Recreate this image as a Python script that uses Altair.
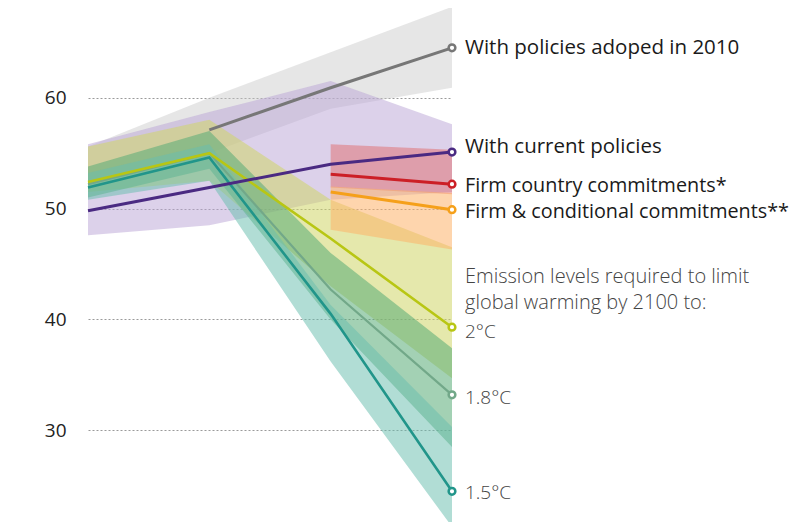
import altair as alt
import pandas as pd

# ---------------- data ----------------
years_all = [2000, 2010, 2020, 2030]
years_from2010 = [2010, 2020, 2030]
years_from2020 = [2020, 2030]

# With policies adopted in 2010 (grey): line from 2010, band from 2000
pol2010_line = [57.1, 60.9, 64.5]
pol2010_hi = [55.6, 60.0, 64.1, 68.2]
pol2010_lo = [52.0, 55.0, 59.0, 60.9]

# With current policies (purple)
current_line = [49.8, 51.9, 54.0, 55.1]
current_hi = [55.8, 58.7, 61.5, 57.6]
current_lo = [47.6, 48.5, 50.8, 51.5]

# Firm country commitments (red)
firm_line = [53.1, 52.2]
firm_hi = [55.8, 55.3]
firm_lo = [51.9, 51.3]

# Firm & conditional commitments (orange)
cond_line = [51.5, 49.9]
cond_hi = [52.0, 51.4]
cond_lo = [48.1, 46.3]

# 2 °C
t20_line = [52.4, 55.0, 47.3, 39.3]
t20_hi = [55.6, 58.0, 50.8, 46.5]
t20_lo = [51.5, 52.5, 43.0, 34.7]

# 1.8 °C
t18_line = [52.2, 55.0, 42.7, 33.2]
t18_hi = [53.8, 57.0, 46.0, 37.4]
t18_lo = [51.0, 53.6, 40.0, 28.5]

# 1.5 °C
t15_line = [51.9, 54.6, 40.5, 24.5]
t15_hi = [53.2, 55.8, 41.3, 30.3]
t15_lo = [50.8, 52.5, 36.2, 21.3]

series_names = ["pol2010", "current", "firm", "cond", "t20", "t18", "t15"]
series_labels = [
    "With policies adoped in 2010",
    "With current policies",
    "Firm country commitments*",
    "Firm & conditional commitments**",
    "2°C",
    "1.8°C",
    "1.5°C",
]
note_lines = ["Emission levels required to limit", "global warming by 2100 to:"]
y_ticks = [30, 40, 50, 60]

# (line years, line values, band years, band low, band high)
series_data = {
    "pol2010": (years_from2010, pol2010_line, years_all, pol2010_lo, pol2010_hi),
    "current": (years_all, current_line, years_all, current_lo, current_hi),
    "firm": (years_from2020, firm_line, years_from2020, firm_lo, firm_hi),
    "cond": (years_from2020, cond_line, years_from2020, cond_lo, cond_hi),
    "t20": (years_all, t20_line, years_all, t20_lo, t20_hi),
    "t18": (years_all, t18_line, years_all, t18_lo, t18_hi),
    "t15": (years_all, t15_line, years_all, t15_lo, t15_hi),
}

# ---------------- styles ----------------
line_color = {
    "pol2010": "#777777", "current": "#4a2a82", "firm": "#cc1f26",
    "cond": "#f5a01a", "t20": "#b8c614", "t18": "#72a889", "t15": "#21958a",
}
band_color = {
    "pol2010": "#c8c8c8", "current": "#b9a3d6", "firm": "#e06060",
    "cond": "#fdb36a", "t20": "#cfd668", "t18": "#57ab76", "t15": "#6abdae",
}
band_opacity = {
    "pol2010": 0.45, "current": 0.5, "firm": 0.45, "cond": 0.55,
    "t20": 0.55, "t18": 0.55, "t15": 0.52,
}
line_width = {
    "pol2010": 3, "current": 3, "firm": 3, "cond": 3,
    "t20": 2.6, "t18": 2.2, "t15": 2.6,
}
label_style = {  # font size, weight, colour, vertical nudge
    "pol2010": (20.5, 400, "#1a1a1a", 0),
    "current": (20.5, 400, "#1a1a1a", -5),
    "firm": (19.8, 400, "#1a1a1a", 2),
    "cond": (19.8, 400, "#1a1a1a", 2),
    "t20": (19, 300, "#444444", 5),
    "t18": (19, 300, "#444444", 3),
    "t15": (19, 300, "#444444", 2),
}

FONT = "Open Sans"
x_scale = alt.Scale(domain=[2000, 2030])
y_scale = alt.Scale(domain=[22, 68], nice=False, zero=False)


def line_frame(name):
    yrs, ln, _, _, _ = series_data[name]
    return pd.DataFrame({"year": yrs, "value": ln})


def band_frame(name):
    _, _, yrs, lo, hi = series_data[name]
    return pd.DataFrame({"year": yrs, "lo": lo, "hi": hi})


X = alt.X("year:Q", scale=x_scale, axis=None)
layers = []

# axis-only layer (gridlines + y labels)
axis_df = pd.DataFrame({"v": y_ticks})
layers.append(
    alt.Chart(axis_df).mark_point(opacity=0).encode(
        x=alt.datum(2000, scale=x_scale, axis=None),
        y=alt.Y("v:Q", scale=y_scale, axis=alt.Axis(
            values=y_ticks, domain=False, ticks=False, tickSize=0,
            labelPadding=22, labelFont=FONT, labelFontSize=19,
            labelColor="#222222", grid=True, gridDash=[2, 2],
            gridColor="#9a9a9a", gridWidth=1, title=None)),
    )
)

band_order = ["pol2010", "current", "t20", "t18", "t15", "firm", "cond"]
for name in band_order:
    layers.append(
        alt.Chart(band_frame(name)).mark_area(
            color=band_color[name], opacity=band_opacity[name]
        ).encode(x=X, y=alt.Y("lo:Q", scale=y_scale), y2="hi:Q")
    )

line_order = ["t15", "t18", "t20", "pol2010", "current", "firm", "cond"]
for name in line_order:
    layers.append(
        alt.Chart(line_frame(name)).mark_line(
            color=line_color[name], strokeWidth=line_width[name]
        ).encode(x=X, y=alt.Y("value:Q", scale=y_scale))
    )
for name in line_order:
    layers.append(
        alt.Chart(line_frame(name).tail(1)).mark_point(
            shape="circle", filled=True, fill="white", stroke=line_color[name],
            strokeWidth=2.5, size=45, opacity=1,
        ).encode(x=X, y=alt.Y("value:Q", scale=y_scale))
    )

# ---------------- labels ----------------
for name, label in zip(series_names, series_labels):
    yrs, ln, _, _, _ = series_data[name]
    size, weight, col, dy = label_style[name]
    df = pd.DataFrame({"year": [yrs[-1]], "value": [ln[-1]], "label": [label]})
    layers.append(
        alt.Chart(df).mark_text(
            align="left", baseline="middle", dx=13, dy=dy, font=FONT,
            fontSize=size, fontWeight=weight, color=col
        ).encode(x=X, y=alt.Y("value:Q", scale=y_scale), text="label:N")
    )

note_df = pd.DataFrame({"text": [note_lines], "year": [2030], "value": [43.8]})
layers.append(
    alt.Chart(note_df).mark_text(
        align="left", baseline="middle", dx=13, font=FONT, fontSize=20,
        fontWeight=300, color="#444444", lineHeight=25.5
    ).encode(x=X, y=alt.Y("value:Q", scale=y_scale), text="text")
)

chart = alt.layer(*layers).properties(
    width=364, height=510,
    autosize=alt.AutoSizeParams(type="none"),
    padding={"left": 80, "top": 1, "right": 340, "bottom": 3},
    background="white",
).configure_view(stroke=None)

chart.save("out.html", embed_options={"renderer": "svg", "actions": False})
